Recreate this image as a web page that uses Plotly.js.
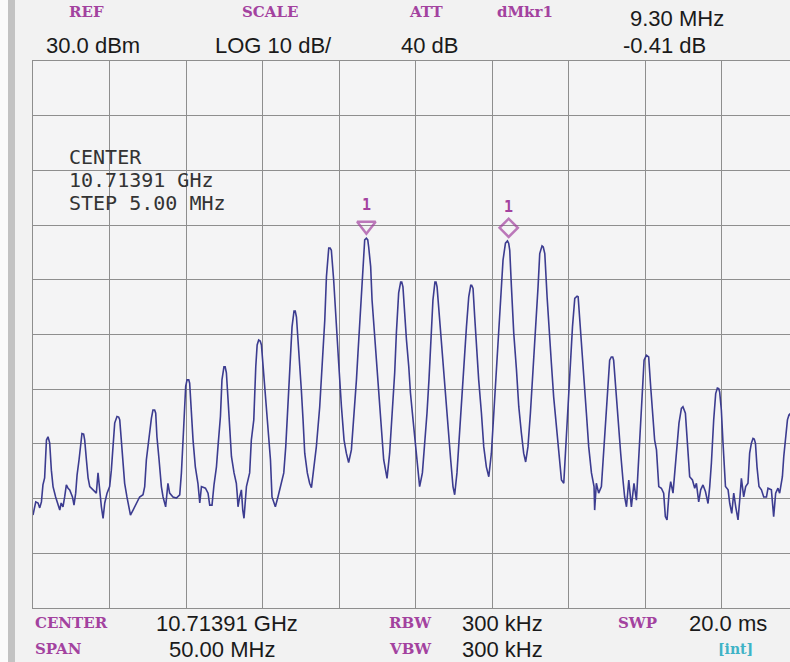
<!DOCTYPE html>
<html>
<head>
<meta charset="utf-8">
<script src="https://cdn.plot.ly/plotly-3.0.1.min.js"></script>
<style>
html,body{margin:0;padding:0;overflow:hidden;background:#f2f2f2;}
#chart{width:800px;height:662px;}
</style>
</head>
<body>
<div id="chart"></div>
<script>
const freqOffsetMHz = [
-25.00,-24.82,-24.67,-24.56,-24.45,-24.35,-24.24,-24.12,-24.02,-23.91,
-23.80,-23.69,-23.52,-23.37,-23.25,-23.16,-23.04,-22.93,-22.82,-22.71,
-22.60,-22.42,-22.32,-22.21,-22.12,-21.99,-21.90,-21.80,-21.69,-21.62,
-21.51,-21.40,-21.29,-21.08,-20.86,-20.75,-20.64,-20.53,-20.42,-20.31,
-20.16,-19.99,-19.88,-19.77,-19.66,-19.51,-19.40,-19.33,-19.22,-19.12,
-19.01,-18.86,-18.73,-18.63,-18.46,-18.24,-18.03,-17.81,-17.70,-17.59,
-17.42,-17.26,-17.16,-17.05,-16.98,-16.90,-16.76,-16.61,-16.50,-16.33,
-16.18,-16.07,-15.85,-15.63,-15.41,-15.30,-15.15,-15.02,-14.93,-14.82,
-14.76,-14.65,-14.54,-14.39,-14.22,-14.10,-13.99,-13.73,-13.56,-13.45,
-13.30,-13.17,-13.01,-12.91,-12.75,-12.65,-12.52,-12.44,-12.36,-12.25,
-12.14,-12.03,-11.86,-11.71,-11.65,-11.60,-11.49,-11.38,-11.29,-11.21,
-11.05,-10.84,-10.73,-10.57,-10.44,-10.35,-10.25,-10.15,-10.07,-9.92,
-9.81,-9.64,-9.48,-9.38,-9.16,-8.99,-8.76,-8.61,-8.48,-8.33,
-8.18,-8.07,-7.94,-7.86,-7.78,-7.61,-7.46,-7.35,-7.24,-7.07,
-6.92,-6.80,-6.70,-6.48,-6.26,-6.11,-5.93,-5.82,-5.67,-5.58,
-5.50,-5.35,-5.17,-5.02,-4.84,-4.67,-4.52,-4.37,-4.19,-4.04,
-3.86,-3.76,-3.65,-3.54,-3.43,-3.32,-3.21,-3.12,-3.06,-2.93,
-2.84,-2.73,-2.56,-2.39,-2.23,-2.08,-1.86,-1.69,-1.54,-1.36,
-1.25,-1.10,-0.97,-0.90,-0.82,-0.71,-0.59,-0.44,-0.33,-0.16,
0.01,0.16,0.27,0.45,0.60,0.75,0.88,1.04,1.14,1.27,
1.34,1.41,1.54,1.69,1.84,1.97,2.12,2.30,2.45,2.56,
2.71,2.84,3.00,3.15,3.33,3.48,3.61,3.67,3.76,3.87,
3.98,4.13,4.31,4.46,4.63,4.79,4.96,5.11,5.29,5.46,
5.62,5.72,5.88,6.01,6.09,6.16,6.27,6.42,6.60,6.75,
6.92,7.07,7.20,7.35,7.51,7.68,7.84,8.01,8.12,8.27,
8.35,8.45,8.60,8.73,8.88,9.03,9.21,9.38,9.54,9.69,
9.82,9.97,10.13,10.26,10.41,10.56,10.63,10.73,10.88,11.01,
11.17,11.32,11.50,11.67,11.71,11.82,11.97,12.15,12.26,12.43,
12.58,12.69,12.80,12.89,12.95,13.07,13.24,13.41,13.56,13.67,
13.79,13.94,14.11,14.28,14.44,14.54,14.65,14.80,14.94,15.09,
15.24,15.37,15.52,15.63,15.75,15.90,16.07,16.22,16.33,16.44,
16.57,16.68,16.83,16.94,17.09,17.22,17.38,17.48,17.64,17.71,
17.81,17.92,18.10,18.25,18.36,18.51,18.64,18.79,18.95,19.12,
19.23,19.34,19.49,19.62,19.73,19.82,19.88,19.99,20.10,20.26,
20.43,20.54,20.67,20.80,20.93,21.08,21.19,21.30,21.45,21.58,
21.73,21.84,21.95,22.06,22.14,22.22,22.32,22.45,22.61,22.76,
22.94,23.04,23.26,23.41,23.54,23.69,23.80,23.98,24.07,24.18,
24.31,24.41,24.48,24.61
];
const levelDbm = [
-53.0,-50.6,-50.8,-51.7,-50.6,-47.5,-46.2,-39.3,-38.7,-39.8,
-44.8,-47.8,-49.7,-50.9,-52.1,-50.8,-51.5,-49.7,-47.5,-48.1,
-48.4,-49.7,-51.2,-49.0,-45.7,-42.9,-40.5,-38.1,-38.2,-39.3,
-42.9,-46.2,-47.8,-48.4,-49.0,-45.3,-49.0,-51.5,-53.6,-50.8,
-49.0,-47.8,-44.8,-39.8,-36.2,-35.0,-35.1,-35.6,-39.8,-42.9,
-47.2,-49.7,-51.5,-53.0,-52.1,-50.8,-49.7,-49.3,-47.8,-42.9,
-38.7,-35.3,-33.8,-33.8,-34.4,-38.7,-42.9,-47.8,-49.7,-51.5,
-47.2,-49.0,-49.7,-49.9,-49.3,-45.3,-36.9,-29.5,-28.3,-28.3,
-28.9,-34.4,-39.3,-44.2,-47.2,-50.8,-47.8,-48.1,-49.0,-51.2,
-51.2,-47.5,-44.2,-40.5,-35.0,-28.3,-25.9,-25.9,-27.0,-32.0,
-38.0,-42.3,-45.3,-47.2,-49.3,-51.5,-49.7,-48.4,-52.1,-53.6,
-47.8,-45.3,-39.3,-35.6,-25.9,-21.9,-21.0,-21.2,-21.9,-27.0,
-32.0,-38.0,-42.9,-49.7,-51.5,-49.7,-47.2,-45.3,-40.5,-32.5,
-24.7,-18.6,-15.7,-15.7,-16.8,-23.4,-30.2,-35.6,-41.7,-45.3,
-47.2,-48.0,-45.3,-40.5,-33.2,-25.9,-17.4,-9.4,-4.2,-4.2,
-4.6,-10.0,-19.2,-25.2,-33.2,-39.3,-41.7,-43.4,-41.1,-35.6,
-28.3,-23.4,-18.0,-13.1,-6.4,-2.7,-2.4,-2.7,-4.0,-7.6,
-13.7,-18.0,-24.7,-32.0,-38.0,-42.9,-46.3,-41.7,-35.0,-27.0,
-19.7,-12.4,-10.4,-10.4,-11.3,-16.8,-21.0,-25.9,-30.7,-35.6,
-40.5,-45.3,-47.8,-45.3,-40.5,-34.4,-28.3,-19.7,-13.7,-10.4,
-10.4,-11.3,-16.1,-22.2,-27.0,-32.5,-38.0,-42.9,-47.8,-49.3,
-45.3,-39.3,-33.2,-25.9,-18.6,-13.1,-11.0,-11.0,-11.6,-16.8,
-22.2,-28.3,-34.4,-40.5,-44.2,-46.0,-41.7,-34.4,-25.9,-18.6,
-11.3,-6.4,-3.3,-2.9,-3.3,-4.6,-11.3,-19.7,-26.5,-33.2,
-38.0,-41.7,-43.3,-40.5,-34.4,-27.0,-19.2,-11.3,-5.2,-3.8,
-4.0,-5.2,-13.1,-19.7,-25.2,-31.4,-36.9,-42.9,-46.6,-47.2,
-40.5,-33.2,-24.7,-18.6,-13.4,-13.0,-13.1,-17.4,-23.4,-28.9,
-34.4,-40.5,-45.3,-47.8,-52.1,-47.2,-49.0,-47.8,-42.9,-36.9,
-30.7,-24.7,-24.1,-24.1,-24.7,-29.5,-35.6,-41.7,-46.6,-49.7,
-51.5,-46.6,-51.5,-47.2,-50.3,-45.3,-39.3,-30.2,-24.7,-23.8,
-24.1,-29.5,-35.6,-39.3,-41.1,-47.8,-48.1,-49.0,-53.3,-53.9,
-49.0,-46.9,-49.0,-45.3,-41.1,-36.2,-33.5,-33.2,-34.4,-36.9,
-41.1,-46.0,-46.6,-48.1,-47.2,-50.6,-48.4,-47.5,-48.7,-50.9,
-47.8,-43.5,-35.6,-30.8,-29.8,-29.9,-30.5,-33.8,-39.9,-47.8,
-48.4,-50.9,-52.7,-49.0,-51.5,-53.9,-50.3,-46.3,-49.7,-47.8,
-47.2,-41.7,-39.9,-39.0,-39.1,-39.9,-44.2,-47.8,-48.4,-49.7,
-49.7,-48.1,-48.4,-53.3,-49.0,-48.1,-49.0,-46.0,-42.3,-38.7,
-35.6,-34.7,-34.5,-35.6
];
// Markers (normal marker 1 and delta marker 1)
const markerFreqMHz = [-3.21, 6.09];
const markerLevelDbm = [-2.4, -2.8];
const markerSymbols = ['triangle-down-open', 'diamond-open'];
const markerLabels = ['1', '1'];

// Instrument settings
const refLevelDbm = 30;
const dbPerDiv = 10;
const spanMHz = 50;
const divisions = 10;

const L = 33, R = 798, T = 61, B = 608;
const W = R - L, H = B - T;
const px = x => (x - L) / W;
const py = y => (B - y) / H;

const MAG = '#a3429f';
const valFont = {family: 'Liberation Sans, Arial, sans-serif', size: 22, color: '#1a1a1a'};
const lblFont = {family: 'DejaVu Serif, serif', size: 15, color: MAG, weight: 700};
const innerFont = {family: 'DejaVu Sans Mono, monospace', size: 20, color: '#333333'};

function ann(text, x, y, font, anchor) {
  return {text: text, x: px(x), y: py(y), xref: 'paper', yref: 'paper',
          xanchor: anchor || 'left', yanchor: 'middle', showarrow: false, font: font};
}
const lbl = (t, x, y) => ann('<b>' + t + '</b>', x, y, lblFont, 'center');

const annotations = [
  lbl('REF', 86, 12), lbl('SCALE', 270, 12), lbl('ATT', 426, 12), lbl('dMkr1', 525, 12),
  ann('9.30 MHz', 628, 18, valFont),
  ann('30.0 dBm', 44, 45, valFont), ann('LOG 10 dB/', 213, 45, valFont),
  ann('40 dB', 399, 45, valFont), ann('-0.41 dB', 621, 45, valFont),
  ann('<b>CENTER</b>', 33, 623, lblFont), ann('10.71391 GHz', 154, 623, valFont),
  ann('<b>RBW</b>', 387, 623, lblFont), ann('300 kHz', 460, 623, valFont),
  ann('<b>SWP</b>', 616, 623, lblFont), ann('20.0 ms', 687, 623, valFont),
  ann('<b>SPAN</b>', 33, 649, lblFont), ann('50.00 MHz', 167, 649, valFont),
  ann('<b>VBW</b>', 387, 649, lblFont), ann('300 kHz', 460, 649, valFont),
  ann('<b>[int]</b>', 716, 649, Object.assign({}, lblFont, {color: '#3fb3c6', size: 14})),
  ann('CENTER', 67, 157, innerFont), ann('10.71391 GHz', 67, 180, innerFont),
  ann('STEP 5.00 MHz', 67, 203, innerFont)
];
markerFreqMHz.forEach((f, i) => {
  annotations.push({text: '<b>' + markerLabels[i] + '</b>', x: f, y: markerLevelDbm[i],
    xref: 'x', yref: 'y', yshift: 33, showarrow: false,
    font: {family: 'DejaVu Sans Mono, monospace', size: 15, color: MAG}});
});

const traces = [
  {x: freqOffsetMHz, y: levelDbm, type: 'scatter', mode: 'lines',
   line: {color: '#3c3c90', width: 1.6, shape: 'linear'}, hoverinfo: 'skip'},
  {x: markerFreqMHz, y: markerLevelDbm.map(v => v + 2.3), type: 'scatter', mode: 'markers',
   marker: {symbol: markerSymbols, size: [16, 14], color: MAG, line: {color: MAG, width: 2.5}},
   hoverinfo: 'skip', cliponaxis: false}
];

const layout = {
  width: 800, height: 662,
  margin: {l: L, r: 800 - R, t: T, b: 662 - B, pad: 0},
  paper_bgcolor: '#f2f2f2', plot_bgcolor: '#f4f4f5',
  showlegend: false,
  xaxis: {range: [-spanMHz / 2, spanMHz / 2], dtick: spanMHz / divisions, showticklabels: false,
          ticks: '', showgrid: true, gridcolor: '#8e8e8e', gridwidth: 1, zeroline: false,
          showline: true, mirror: true, linecolor: '#8e8e8e', linewidth: 1, fixedrange: true},
  yaxis: {range: [refLevelDbm - dbPerDiv * divisions, refLevelDbm], dtick: dbPerDiv,
          showticklabels: false, ticks: '', showgrid: true, gridcolor: '#8e8e8e', gridwidth: 1,
          zeroline: false, showline: true, mirror: true, linecolor: '#8e8e8e', linewidth: 1,
          fixedrange: true},
  shapes: [
    {type: 'rect', xref: 'paper', yref: 'paper', x0: px(0), x1: px(8), y0: py(662), y1: py(0),
     fillcolor: '#fbfbfb', line: {width: 0}, layer: 'below'},
    {type: 'rect', xref: 'paper', yref: 'paper', x0: px(8), x1: px(15), y0: py(662), y1: py(0),
     fillcolor: '#c3c3c3', line: {width: 0}, layer: 'below'}
  ],
  annotations: annotations
};

Plotly.newPlot('chart', traces, layout, {displayModeBar: false, staticPlot: true});
</script>
</body>
</html>
